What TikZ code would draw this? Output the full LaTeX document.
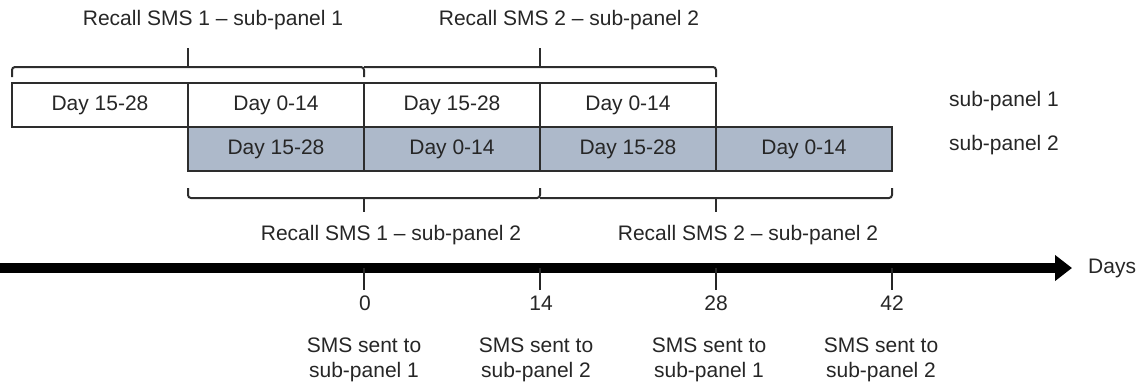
\documentclass[tikz,border=0pt]{standalone}
\usepackage{fontspec}
\setmainfont{Liberation Sans}
\usetikzlibrary{arrows.meta}
\definecolor{panelgray}{RGB}{173,185,202}
\definecolor{linegray}{RGB}{45,45,45}
\begin{document}
\begin{tikzpicture}[x=1pt,y=-1pt,
  lbl/.style={font=\fontsize{21}{25}\selectfont, inner sep=0pt, text=black!85},
  cell/.style={draw=linegray, line width=1.4pt, minimum width=176pt, minimum height=44pt,
    inner sep=0pt, outer sep=0pt, font=\fontsize{21}{25}\selectfont, text=black!85},
  wcell/.style={cell, fill=white},
  gcell/.style={cell, fill=panelgray},
  brace/.style={draw=linegray, line width=2pt, rounded corners=3pt},
  tickmark/.style={draw=black!85, line width=2.4pt},
  axis/.style={draw=black, line width=10pt, -{Triangle[length=17pt,width=25pt]}}]
\useasboundingbox (0,0) rectangle (1137,384);
% cells
\node[gcell] (b1) at (276,149) {Day 15-28};
\node[gcell] (b2) at (452,149) {Day 0-14};
\node[gcell] (b3) at (628,149) {Day 15-28};
\node[gcell] (b4) at (804,149) {Day 0-14};
\node[wcell] (t1) at (100,105) {Day 15-28};
\node[wcell] (t2) at (276,105) {Day 0-14};
\node[wcell] (t3) at (452,105) {Day 15-28};
\node[wcell] (t4) at (628,105) {Day 0-14};
% helper levels
\coordinate (ybt) at (0,67);
\coordinate (ybtend) at (0,77);
\coordinate (ytip) at (0,48);
\coordinate (ybb) at (0,198);
\coordinate (ybbend) at (0,188);
\coordinate (ybtip) at (0,212);
% top braces
\draw[brace] (t1.north west |- ybtend) -- (t1.north west |- ybt) -- (t3.north west |- ybt) -- (t3.north west |- ybtend);
\draw[brace] (t2.north west |- ybt) -- (t2.north west |- ytip);
\draw[brace] (t3.north west |- ybt) -- (t4.north east |- ybt) -- (t4.north east |- ybtend);
\draw[brace] (t4.north west |- ybt) -- (t4.north west |- ytip);
% bottom braces
\draw[brace] (b1.south west |- ybbend) -- (b1.south west |- ybb) -- (b3.south west |- ybb) -- (b3.south west |- ybbend);
\draw[brace] (b2.south west |- ybb) -- (b2.south west |- ybtip);
\draw[brace] (b3.south west |- ybb) -- (b4.south east |- ybb) -- (b4.south east |- ybbend);
\draw[brace] (b4.south west |- ybb) -- (b4.south west |- ybtip);
% brace labels
\node[lbl] (r1) at (213,20) {Recall SMS 1 – sub-panel 1};
\node[lbl] (r2) at (569,20) {Recall SMS 2 – sub-panel 2};
\node[lbl] (r3) at (391,235) {Recall SMS 1 – sub-panel 2};
\node[lbl] (r4) at (748,235) {Recall SMS 2 – sub-panel 2};
% side labels
\node[lbl] (s1) at (1004,101) {sub-panel 1};
\node[lbl] (s2) at (1004,145) {sub-panel 2};
% axis
\coordinate (axs) at (0,268);
\coordinate (axe) at (1072,268);
\coordinate (ytk) at (0,290);
\draw[axis] (axs) -- (axe);
\node[lbl, anchor=west] (days) at (1088,268) {Days};
% ticks
\draw[tickmark] (b2.south west |- axs) -- (b2.south west |- ytk);
\draw[tickmark] (b3.south west |- axs) -- (b3.south west |- ytk);
\draw[tickmark] (b4.south west |- axs) -- (b4.south west |- ytk);
\draw[tickmark] (b4.south east |- axs) -- (b4.south east |- ytk);
% numbers
\node[lbl] (n0) at (365,303) {0};
\node[lbl] (n14) at (541,303) {14};
\node[lbl] (n28) at (716,303) {28};
\node[lbl] (n42) at (892,303) {42};
% SMS labels
\node[lbl, align=center] (m1) at (364,360) {SMS sent to\\ sub-panel 1};
\node[lbl, align=center] (m2) at (536,360) {SMS sent to\\ sub-panel 2};
\node[lbl, align=center] (m3) at (709,360) {SMS sent to\\ sub-panel 1};
\node[lbl, align=center] (m4) at (881,360) {SMS sent to\\ sub-panel 2};
\end{tikzpicture}
\end{document}
